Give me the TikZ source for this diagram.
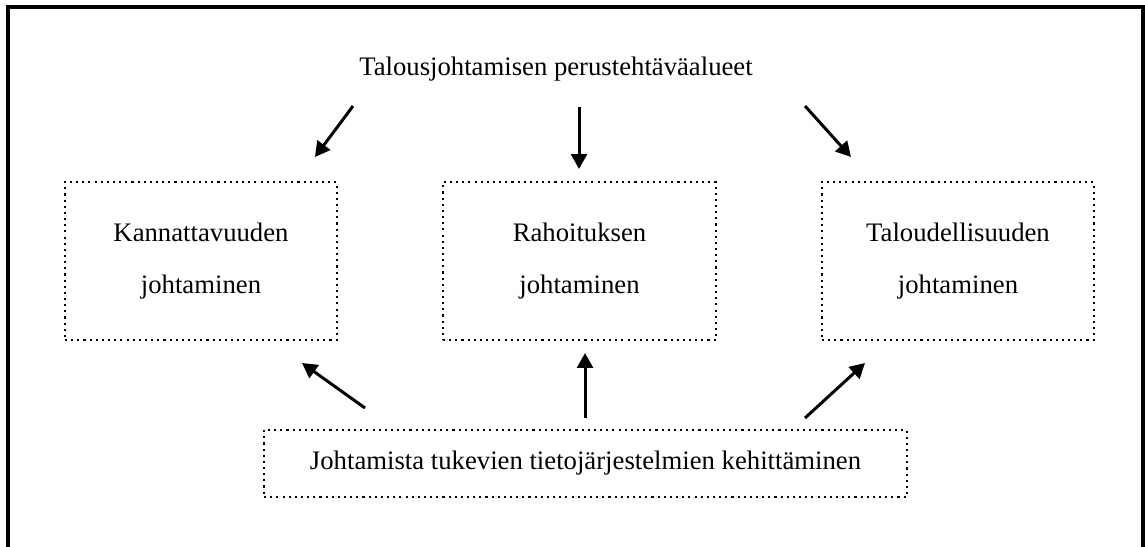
\documentclass[tikz,border=0pt]{standalone}
\usepackage{fontspec}
\setmainfont{Liberation Serif}
\usetikzlibrary{arrows.meta}
\begin{document}
\begin{tikzpicture}[x=0.02cm, y=-0.02cm, font=\fontsize{15.2}{29.5}\selectfont,
	line join=miter,
	alue/.style={draw, line width=1.2pt, dash pattern=on 1.2pt off 2.3pt, align=center, inner sep=0pt},
	nuoli/.style={line width=1.7pt, -{Triangle[length=8.5pt,width=9pt]}}]
			\useasboundingbox (0,0) rectangle (1145,547);
			\draw[line width=1.8pt] (8,7) rectangle (1143,580);
			\node (otsikko) at (556,69) {Talousjohtamisen perustehtäväalueet};
			\node[alue, minimum width=5.44cm, minimum height=3.16cm] (kann) at (201,261) {Kannattavuuden\\johtaminen};
			\node[alue, minimum width=5.46cm, minimum height=3.16cm] (raho) at (579.5,261) {Rahoituksen\\johtaminen};
			\node[alue, minimum width=5.44cm, minimum height=3.16cm] (talo) at (958,261) {Taloudellisuuden\\johtaminen};
			\node[alue, minimum width=12.86cm, minimum height=1.34cm] (tieto) at (585.5,463.5) {Johtamista tukevien tietojärjestelmien kehittäminen};
			% nuolten alku- ja loppupisteet
			\coordinate (a1) at (353,106); \coordinate (b1) at (315,157);
			\coordinate (a2) at (579,107); \coordinate (b2) at (579,169);
			\coordinate (a3) at (805,106); \coordinate (b3) at (851,157);
			\coordinate (a4) at (365,408); \coordinate (b4) at (302,363);
			\coordinate (a5) at (585,418); \coordinate (b5) at (585,353);
			\coordinate (a6) at (805,418); \coordinate (b6) at (865,363);
			\foreach \i in {1,...,6}
			\draw[nuoli] (a\i)--(b\i);
\end{tikzpicture}
\end{document}
